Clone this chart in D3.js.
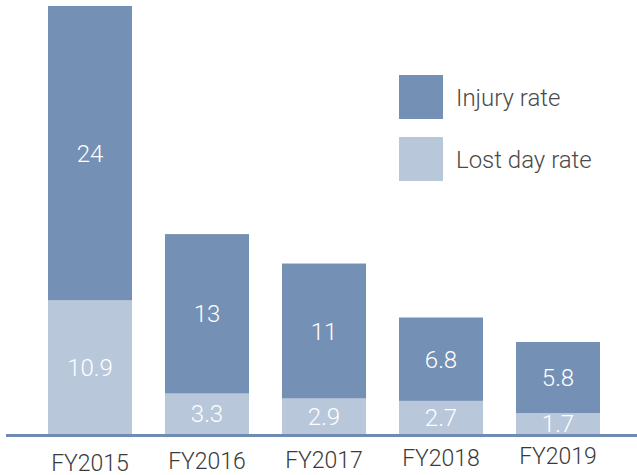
<!DOCTYPE html>
<html lang="en">
<head>
    <meta charset="utf-8">
    <title>Injury rate and lost day rate</title>
    <style>
        body { margin: 0; background: white; }
        svg { display: block; }
        .value-label { font-family: "Roboto", "Liberation Sans", sans-serif; font-weight: 300; font-size: 24px; fill: white; text-anchor: middle; }
        .year-label { font-family: "Roboto", "Liberation Sans", sans-serif; font-weight: 300; font-size: 23px; fill: #3a3a3a; text-anchor: middle; }
        .legend-label { font-family: "Roboto", "Liberation Sans", sans-serif; font-weight: 300; font-size: 24px; fill: #4a4a4a; }
    </style>
    <script src="https://d3js.org/d3.v7.min.js"></script>
</head>
<body>
<svg id="chart" width="637" height="475"></svg>
<script>
    const years = ["FY2015", "FY2016", "FY2017", "FY2018", "FY2019"];
    const lostDayRate = [10.9, 3.3, 2.9, 2.7, 1.7];
    const injuryRate = [24, 13, 11, 6.8, 5.8];
    const seriesNames = ["Injury rate", "Lost day rate"];
    const colors = { injury: "#7590b5", lost: "#b9c7da" };

    const width = 637;
    const baseY = 434;

    const svg = d3.select("#chart");

    const x = d3.scaleBand()
        .domain(years)
        .range([31.5, 616.5])
        .paddingInner(0.282)
        .paddingOuter(0.141);

    const y = d3.scaleLinear()
        .domain([0, 34.9])
        .range([baseY, 6]);

    years.forEach((year, i) => {
        const bx = x(year);
        const lost = lostDayRate[i];
        const total = lost + injuryRate[i];

        // lower segment
        svg.append("rect")
            .attr("x", bx)
            .attr("y", y(lost))
            .attr("width", x.bandwidth())
            .attr("height", y(0) - y(lost))
            .attr("fill", colors.lost);

        // upper segment
        svg.append("rect")
            .attr("x", bx)
            .attr("y", y(total))
            .attr("width", x.bandwidth())
            .attr("height", y(lost) - y(total))
            .attr("fill", colors.injury);

        svg.append("text")
            .attr("class", "value-label")
            .attr("x", bx + x.bandwidth() / 2)
            .attr("y", (y(0) + y(lost)) / 2)
            .attr("dy", "0.36em")
            .text(lost);

        svg.append("text")
            .attr("class", "value-label")
            .attr("x", bx + x.bandwidth() / 2)
            .attr("y", (y(lost) + y(total)) / 2)
            .attr("dy", "0.36em")
            .text(injuryRate[i]);

        // labels in the original drift upward a little from left to right
        svg.append("text")
            .attr("class", "year-label")
            .attr("x", bx + x.bandwidth() / 2)
            .attr("y", 471 - i * 1.75)
            .text(year);
    });

    // baseline
    svg.append("line")
        .attr("x1", 6)
        .attr("x2", width)
        .attr("y1", baseY + 1.5)
        .attr("y2", baseY + 1.5)
        .attr("stroke", "#6f8bb2")
        .attr("stroke-width", 3);

    // legend
    const legend = svg.append("g").attr("transform", "translate(399,75)");
    [colors.injury, colors.lost].forEach((c, i) => {
        legend.append("rect")
            .attr("x", 0)
            .attr("y", i * 62)
            .attr("width", 44)
            .attr("height", 44)
            .attr("fill", c);
        legend.append("text")
            .attr("class", "legend-label")
            .attr("x", 57)
            .attr("y", i * 62 + 22)
            .attr("dy", "0.36em")
            .text(seriesNames[i]);
    });
</script>
</body>
</html>
